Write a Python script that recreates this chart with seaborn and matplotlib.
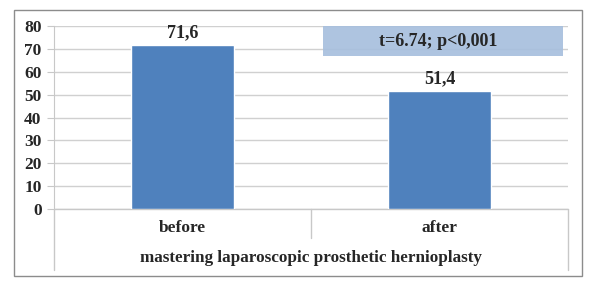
import matplotlib
matplotlib.use('Agg')
import matplotlib.pyplot as plt
from matplotlib.patches import Rectangle
import seaborn as sns

# Data
categories = ['before', 'after']
values = [71.6, 51.4]
stat_text = 't=6.74; p<0,001'
xlabel = 'mastering laparoscopic prosthetic hernioplasty'

sns.set_style('white')
plt.rcParams['font.family'] = ['Liberation Serif', 'DejaVu Serif']
plt.rcParams['font.weight'] = 'bold'

fig = plt.figure(figsize=(5.94, 2.89), dpi=100)
ax = fig.add_axes([54 / 594, 1 - 209 / 289, 514 / 594, 183 / 289])

sns.barplot(x=categories, y=values, color='#4F81BD', width=0.4, saturation=1, ax=ax, zorder=3)

# bar labels with comma decimals
ax.bar_label(ax.containers[0], labels=[f'{v:.1f}'.replace('.', ',') for v in values],
             padding=3, fontsize=13, fontweight='bold')

ax.set_ylim(0, 80)
ax.set_xlim(-0.5, 1.5)
ax.set_yticks(range(0, 81, 10))
ax.yaxis.grid(True, color='#d0d0d0', linewidth=1, zorder=0)
ax.set_axisbelow(True)

for s in ['top', 'right', 'bottom']:
    ax.spines[s].set_visible(False)
ax.spines['left'].set_color('#c8c8c8')
ax.spines['left'].set_bounds(0, 80)

ax.tick_params(axis='y', which='major', left=True, length=5, color='#c8c8c8', labelsize=12.5, pad=4)
ax.tick_params(axis='x', length=0, labelsize=12.5, pad=8)
for lab in ax.get_xticklabels() + ax.get_yticklabels():
    lab.set_fontweight('bold')

ax.set_xlabel(xlabel, fontsize=12.3, fontweight='bold', labelpad=10)
ax.set_ylabel('')

# category table lines below the axis
line_kw = dict(transform=ax.transAxes, color='#c8c8c8', linewidth=1, clip_on=False)
ax.plot([0, 0], [0, -0.333], **line_kw)
ax.plot([1, 1], [0, -0.333], **line_kw)
ax.plot([0.5, 0.5], [0, -0.158], **line_kw)
ax.plot([0, 1], [0, 0], **line_kw)

# statistics box
ax.add_patch(Rectangle((0.547, 66.8), 0.933, 13.2, facecolor='#A7BFDE', alpha=0.92,
                       edgecolor='none', zorder=4, clip_on=False))
ax.text(0.993, 73.4, stat_text, ha='center', va='center', fontsize=13,
        fontweight='bold', zorder=5)

# outer frame
fig.patches.append(Rectangle((14 / 594, 1 - 276 / 289), 568 / 594, 266 / 289,
                             transform=fig.transFigure, fill=False,
                             edgecolor='#8c8c8c', linewidth=1))

fig.savefig('out.png', dpi=100)
